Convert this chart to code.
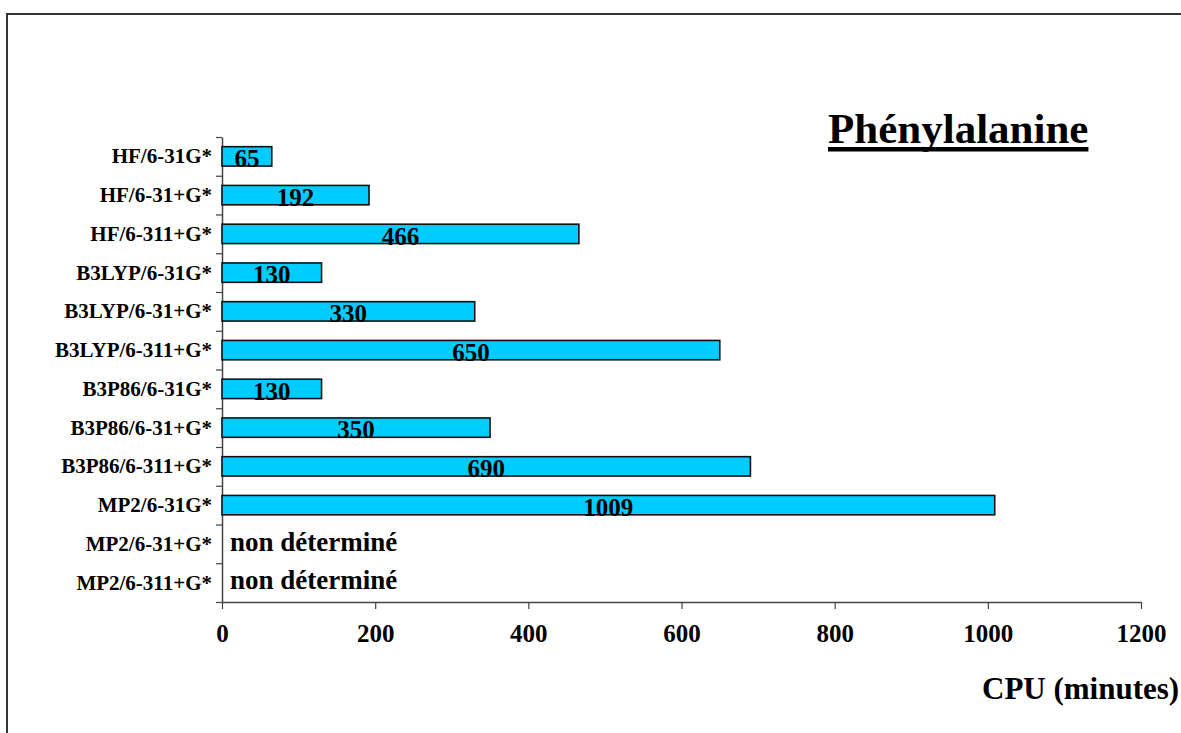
<!DOCTYPE html>
<html>
<head>
<meta charset="utf-8">
<script src="https://cdn.jsdelivr.net/npm/d3@7"></script>
<style>
  body { margin: 0; background: #fff; }
  text { font-family: 'Liberation Serif', 'Times New Roman', serif; font-weight: bold; }
</style>
</head>
<body>
<div id="chart"></div>
<script>
const categories = [
  'HF/6-31G*', 'HF/6-31+G*', 'HF/6-311+G*',
  'B3LYP/6-31G*', 'B3LYP/6-31+G*', 'B3LYP/6-311+G*',
  'B3P86/6-31G*', 'B3P86/6-31+G*', 'B3P86/6-311+G*',
  'MP2/6-31G*', 'MP2/6-31+G*', 'MP2/6-311+G*'
]
// CPU time in minutes, null = not determined
const cpuMinutes = [65, 192, 466, 130, 330, 650, 130, 350, 690, 1009, null, null]
const xTicks = [0, 200, 400, 600, 800, 1000, 1200]
const missingLabel = 'non déterminé'

const width = 1181
const height = 733
const plot = { left: 222, right: 1141, top: 137, bottom: 602 }

const svg = d3
  .select('#chart')
  .append('svg')
  .attr('width', width)
  .attr('height', height)

// outer frame (right and bottom edges fall outside the picture)
svg
  .append('rect')
  .attr('x', 7)
  .attr('y', 14)
  .attr('width', width + 20)
  .attr('height', height + 20)
  .attr('fill', 'none')
  .attr('stroke', '#333')
  .attr('stroke-width', 2)

const data = categories.map((c, i) => ({ category: c, value: cpuMinutes[i] }))

const xPositionScale = d3
  .scaleLinear()
  .domain([0, 1200])
  .range([plot.left, plot.right])

const yPositionScale = d3
  .scaleBand()
  .domain(categories)
  .range([plot.top, plot.bottom])
  .paddingInner(0.5)
  .paddingOuter(0.25)

// boundaries between categories, for the y ticks
const yEdgeScale = d3
  .scaleLinear()
  .domain([0, categories.length])
  .range([plot.top, plot.bottom])

// x axis
const xAxis = svg
  .append('g')
  .attr('transform', 'translate(0,' + plot.bottom + ')')
  .call(
    d3
      .axisBottom(xPositionScale)
      .tickValues(xTicks)
      .tickFormat(d3.format('d'))
      .tickSize(7)
      .tickSizeOuter(0)
      .tickPadding(15)
  )
xAxis.select('.domain').attr('stroke', '#444').attr('stroke-width', 1.5)
xAxis.selectAll('.tick line').attr('stroke', '#444').attr('stroke-width', 1.2)
xAxis
  .selectAll('.tick text')
  .attr('fill', '#000')
  .style('font-size', '25px')
  .style('font-family', "'Liberation Serif', serif")
  .style('font-weight', 'bold')

// y axis
const yAxis = svg
  .append('g')
  .attr('transform', 'translate(' + plot.left + ',0)')
  .call(
    d3
      .axisLeft(yEdgeScale)
      .tickValues(d3.range(categories.length + 1))
      .tickFormat('')
      .tickSize(6)
      .tickSizeOuter(0)
  )
yAxis.select('.domain').attr('stroke', '#444').attr('stroke-width', 1.5)
yAxis.selectAll('.tick line').attr('stroke', '#444').attr('stroke-width', 1.2)

// category labels
svg
  .selectAll('.cat-label')
  .data(data)
  .enter()
  .append('text')
  .attr('class', 'cat-label')
  .attr('x', plot.left - 10)
  .attr('y', d => yPositionScale(d.category) + yPositionScale.bandwidth() / 2)
  .attr('dy', '0.33em')
  .attr('text-anchor', 'end')
  .style('font-size', '21px')
  .text(d => d.category)

const measured = data.filter(d => d.value !== null)
const missing = data.filter(d => d.value === null)

// bars
svg
  .selectAll('.bar')
  .data(measured)
  .enter()
  .append('rect')
  .attr('class', 'bar')
  .attr('x', xPositionScale(0))
  .attr('y', d => yPositionScale(d.category))
  .attr('width', d => xPositionScale(d.value) - xPositionScale(0))
  .attr('height', yPositionScale.bandwidth())
  .attr('fill', '#00ccff')
  .attr('stroke', '#111')
  .attr('stroke-width', 1.6)

// value labels, baseline on the bottom edge of each bar
svg
  .selectAll('.value-label')
  .data(measured)
  .enter()
  .append('text')
  .attr('class', 'value-label')
  .attr('x', d => (xPositionScale(0) + xPositionScale(d.value)) / 2)
  .attr('y', d => yPositionScale(d.category) + yPositionScale.bandwidth() + 1)
  .attr('text-anchor', 'middle')
  .style('font-size', '25px')
  .text(d => d.value)

// rows without a measurement
svg
  .selectAll('.missing-label')
  .data(missing)
  .enter()
  .append('text')
  .attr('class', 'missing-label')
  .attr('x', xPositionScale(0) + 8)
  .attr('y', d => yPositionScale(d.category) + yPositionScale.bandwidth() / 2)
  .attr('dy', '0.25em')
  .style('font-size', '27px')
  .text(missingLabel)

// title with thick underline
const title = svg
  .append('text')
  .attr('x', 828)
  .attr('y', 143)
  .style('font-size', '43px')
  .text('Phénylalanine')
const tw = title.node().getComputedTextLength()
svg
  .append('rect')
  .attr('x', 828)
  .attr('y', 147)
  .attr('width', tw)
  .attr('height', 4.5)
  .attr('fill', '#000')

// axis title
svg
  .append('text')
  .attr('x', 982)
  .attr('y', 699)
  .style('font-size', '31px')
  .text('CPU (minutes)')
</script>
</body>
</html>
